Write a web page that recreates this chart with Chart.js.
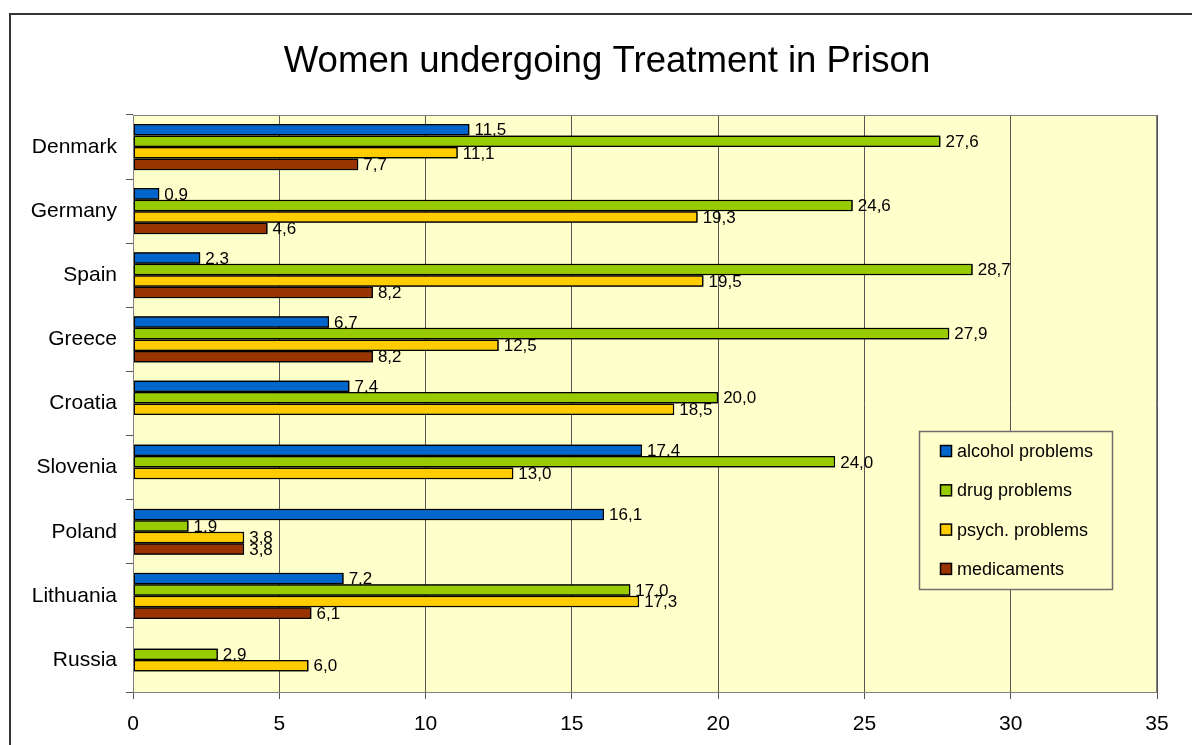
<!DOCTYPE html>
<html>
<head>
<meta charset="utf-8">
<script src="https://cdn.jsdelivr.net/npm/chart.js@4/dist/chart.umd.min.js"></script>
<style>
  html, body { margin: 0; padding: 0; background: #ffffff; }
  canvas { display: block; }
</style>
</head>
<body>
<canvas id="chart" width="1192" height="745"></canvas>
<script>
// Countries shown on the vertical axis
const countries = ['Denmark', 'Germany', 'Spain', 'Greece', 'Croatia', 'Slovenia', 'Poland', 'Lithuania', 'Russia'];

// Share of women in treatment (%), one array per problem type
const alcoholProblems = [11.5, 0.9, 2.3, 6.7, 7.4, 17.4, 16.1, 7.2, null];
const drugProblems    = [27.6, 24.6, 28.7, 27.9, 20.0, 24.0, 1.9, 17.0, 2.9];
const psychProblems   = [11.1, 19.3, 19.5, 12.5, 18.5, 13.0, 3.8, 17.3, 6.0];
const medicaments     = [7.7, 4.6, 8.2, 8.2, null, null, 3.8, 6.1, null];

const seriesNames = ['alcohol problems', 'drug problems', 'psych. problems', 'medicaments'];
const seriesColors = ['#0066CC', '#99CC00', '#FFCC00', '#993300'];

// Value axis ticks
const valueTicks = [0, 5, 10, 15, 20, 25, 30, 35];

const chartTitle = 'Women undergoing Treatment in Prison';
const FONT = '"Liberation Sans", Arial, Helvetica, sans-serif';

const seriesValues = [alcoholProblems, drugProblems, psychProblems, medicaments];

// Plot background, frame and title
const framePlugin = {
  id: 'frame',
  beforeDraw(chart) {
    const { ctx, chartArea: a } = chart;
    ctx.save();
    ctx.fillStyle = '#ffffff';
    ctx.fillRect(0, 0, chart.width, chart.height);
    ctx.fillStyle = '#FFFFCC';
    ctx.fillRect(a.left, a.top, a.right - a.left, a.bottom - a.top);
    ctx.restore();
  },
  afterDraw(chart) {
    const { ctx, chartArea: a } = chart;
    ctx.save();
    // plot area outline
    ctx.strokeStyle = '#808080';
    ctx.lineWidth = 1;
    ctx.strokeRect(a.left + 0.5, a.top + 0.5, a.right - a.left - 1, a.bottom - a.top);
    // outer chart border
    ctx.strokeStyle = '#333333';
    ctx.lineWidth = 2;
    ctx.strokeRect(10, 14, chart.width + 20, chart.height + 20);
    // title
    ctx.fillStyle = '#000000';
    ctx.font = '36.6px ' + FONT;
    ctx.textAlign = 'center';
    ctx.textBaseline = 'alphabetic';
    ctx.fillText(chartTitle, 607, 72);
    ctx.restore();
  }
};

// Value labels to the right of each bar; each series is painted
// together with its labels so the next series overlaps them.
const valueLabelPlugin = {
  id: 'valueLabels',
  afterDatasetsDraw(chart) {
    const { ctx } = chart;
    ctx.save();
    chart.data.datasets.forEach((ds, di) => {
      const meta = chart.getDatasetMeta(di);
      meta.data.forEach((bar, i) => {
        const v = ds.data[i];
        if (v === null || v === undefined) return;
        bar.draw(ctx);
      });
      ctx.fillStyle = '#000000';
      ctx.font = '17px ' + FONT;
      ctx.textAlign = 'left';
      ctx.textBaseline = 'middle';
      meta.data.forEach((bar, i) => {
        const v = ds.data[i];
        if (v === null || v === undefined) return;
        ctx.fillText(v.toFixed(1).replace('.', ','), bar.x + 5, bar.y + 1);
      });
    });
    ctx.restore();
  }
};

// Boxed legend inside the plot area
const boxLegendPlugin = {
  id: 'boxLegend',
  afterDraw(chart) {
    const { ctx } = chart;
    const x = 919, y = 431, w = 193, h = 158;
    ctx.save();
    ctx.fillStyle = '#FFFFCC';
    ctx.fillRect(x, y, w, h);
    ctx.strokeStyle = '#6e6e6e';
    ctx.lineWidth = 1.5;
    ctx.strokeRect(x + 0.5, y + 0.5, w, h);
    ctx.font = '18px ' + FONT;
    ctx.textAlign = 'left';
    ctx.textBaseline = 'middle';
    chart.data.datasets.forEach((ds, i) => {
      const cy = 451 + i * 39.3;
      ctx.fillStyle = ds.backgroundColor;
      ctx.fillRect(940.5, cy - 5.5, 11, 11);
      ctx.strokeStyle = '#000000';
      ctx.lineWidth = 1.5;
      ctx.strokeRect(940.5, cy - 5.5, 11, 11);
      ctx.fillStyle = '#000000';
      ctx.fillText(ds.label, 957, cy + 1);
    });
    ctx.restore();
  }
};

const datasets = seriesNames.map((name, i) => ({
  label: name,
  data: seriesValues[i],
  backgroundColor: seriesColors[i],
  borderColor: '#000000',
  borderWidth: 1.5,
  borderSkipped: false,
  categoryPercentage: 0.72,
  barPercentage: 1.0
}));

new Chart(document.getElementById('chart'), {
  type: 'bar',
  data: { labels: countries, datasets },
  plugins: [framePlugin, valueLabelPlugin, boxLegendPlugin],
  options: {
    indexAxis: 'y',
    responsive: false,
    animation: false,
    layout: { padding: { left: 10, top: 115, right: 35, bottom: 0 } },
    plugins: {
      legend: { display: false },
      title: { display: false },
      tooltip: { enabled: false }
    },
    scales: {
      x: {
        type: 'linear',
        min: valueTicks[0],
        max: valueTicks[valueTicks.length - 1],
        afterBuildTicks(scale) {
          scale.ticks = valueTicks.map(v => ({ value: v }));
        },
        afterFit(scale) { scale.height = 53; },
        grid: { color: '#555555', lineWidth: 1, drawTicks: true, tickLength: 7 },
        border: { color: '#555555', width: 1 },
        ticks: {
          color: '#000000',
          font: { family: FONT, size: 21 },
          padding: 13,
          maxRotation: 0
        }
      },
      y: {
        type: 'category',
        afterFit(scale) { scale.width = 123; },
        grid: { offset: true, drawOnChartArea: false, drawTicks: true, tickLength: 7, color: '#555555' },
        border: { color: '#555555', width: 1 },
        ticks: {
          color: '#000000',
          font: { family: FONT, size: 21 },
          padding: 9
        }
      }
    }
  }
});
</script>
</body>
</html>
